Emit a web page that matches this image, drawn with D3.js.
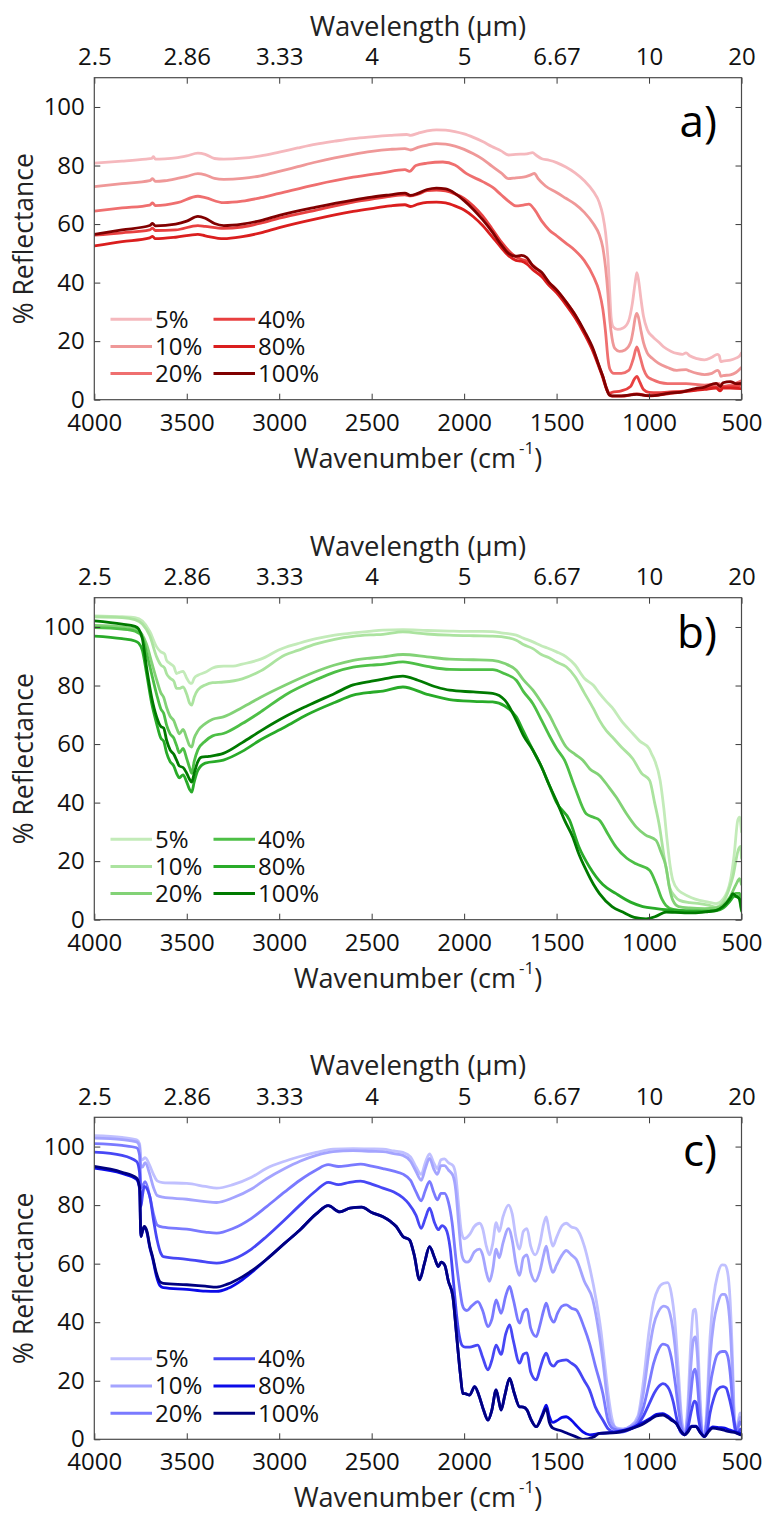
<!DOCTYPE html>
<html><head><meta charset="utf-8">
<script src="https://cdn.jsdelivr.net/npm/d3@7"></script>
<style>
body{margin:0;background:#fff;}
text{font-family:"Open Sans",sans-serif;}
</style></head>
<body><svg id="chart" width="766" height="1515"></svg>
<script>
// ---------- axis / category data ----------
const wavenumberTicks = [4000, 3500, 3000, 2500, 2000, 1500, 1000, 500];
const wavelengthLabels = ["2.5", "2.86", "3.33", "4", "5", "6.67", "10", "20"];
const reflectanceTicks = [0, 20, 40, 60, 80, 100];
const seriesNames = ["5%", "10%", "20%", "40%", "80%", "100%"];
const panelLabels = ["a)", "b)", "c)"];
const redColors = ["#f5b8bd", "#ef9898", "#ef6f6f", "#e84040", "#da1e1e", "#800000"];
const greenColors = ["#c3ebb9", "#abe39f", "#82d276", "#4dbf46", "#29ab29", "#007a00"];
const blueColors = ["#c0c0ff", "#a4a4ff", "#7a7aff", "#4747f5", "#0b0be8", "#000080"];

// ---------- panel a (red): [wavenumber, % reflectance] ----------
const red5 = [[4000,80.8],[3850,81.5],[3720,82.2],[3690,82.4],[3680,83.0],[3670,82.2],[3620,82.3],[3560,82.6],[3500,83.3],[3440,84.2],[3400,83.8],[3350,82.4],[3300,82.2],[3200,82.5],[3100,83.3],[3000,84.6],[2900,86],[2800,87.3],[2700,88.3],[2600,89.2],[2500,89.8],[2400,90.3],[2310,90.6],[2290,90.3],[2250,91],[2200,91.8],[2150,92.2],[2100,92.1],[2050,91.6],[2000,90.8],[1950,89.6],[1900,88.2],[1850,86.5],[1800,85],[1760,83.6],[1720,83.8],[1660,84],[1630,84.4],[1610,83.5],[1580,82.3],[1540,81.8],[1500,81],[1450,79.5],[1400,77.5],[1350,74.8],[1300,71],[1270,67.5],[1250,63],[1235,57],[1222,48],[1212,36],[1205,28],[1195,25],[1170,24],[1140,24.5],[1110,27],[1090,33],[1075,40],[1066,43.4],[1057,41],[1045,35],[1030,28.5],[1010,24],[980,21.5],[950,19.8],[920,18],[880,16.5],[850,15.8],[820,15.5],[800,16],[780,15],[740,14],[700,13.6],[660,14.5],[630,15.5],[620,15],[612,13],[600,13.2],[560,13.5],[530,14.2],[510,15],[500,16]];
const red10 = [[4000,72.8],[3850,73.8],[3700,74.8],[3685,75.5],[3670,74.6],[3620,74.8],[3550,75.6],[3500,76.3],[3440,77.2],[3400,76.8],[3350,75.6],[3300,75.3],[3200,75.6],[3100,76.5],[3000,78],[2900,79.6],[2800,81.2],[2700,82.6],[2600,83.8],[2500,84.8],[2400,85.5],[2320,85.8],[2290,85.3],[2250,86.2],[2200,87],[2150,87.5],[2100,87.3],[2050,86.6],[2000,85.5],[1950,84],[1900,82.2],[1850,79.8],[1800,77.5],[1760,75.5],[1720,75.8],[1680,76],[1640,76.8],[1620,77.3],[1600,75.5],[1560,73],[1500,70.8],[1450,68.8],[1400,66.8],[1350,64],[1300,60],[1270,56.5],[1250,52],[1235,45],[1222,36],[1212,27],[1200,21],[1185,17.5],[1160,16.5],[1130,17],[1100,19.5],[1085,24],[1075,28],[1066,29.5],[1057,28],[1045,24],[1030,19.5],[1010,16],[980,14],[950,12.5],[900,11],[850,10],[800,10.3],[780,9.8],[740,9],[700,8.6],[660,9],[630,10],[620,9.5],[612,8],[600,8.2],[560,8.5],[530,9.3],[500,11]];
const red20 = [[4000,64.4],[3850,65.5],[3700,66.5],[3685,67.2],[3670,66.3],[3550,67.3],[3440,69.5],[3400,69],[3300,67.3],[3200,67.8],[3100,69],[3000,70.5],[2800,73.5],[2600,76],[2442,77.5],[2320,78.6],[2295,78],[2261,80],[2200,80.8],[2115,81.2],[2050,80.2],[1989,77.3],[1900,74.5],[1845,72.5],[1800,70],[1754,67.5],[1720,66.2],[1680,66.5],[1650,66.8],[1620,65],[1580,61],[1540,58],[1500,56],[1450,53.5],[1400,51],[1350,47.5],[1300,42],[1270,37],[1250,31],[1235,23],[1222,14],[1212,10.5],[1190,9],[1150,9],[1110,10],[1085,14],[1066,18],[1050,15],[1030,10.5],[1010,8],[980,6.8],[900,5.5],[800,5.5],[700,5],[620,5.5],[612,4.5],[560,5],[500,6.5]];
const red40 = [[4000,56.2],[3850,57],[3700,58],[3685,58.6],[3670,57.8],[3560,58],[3440,59.5],[3400,59.2],[3300,58.5],[3200,59],[3100,60.3],[3000,62],[2800,64.8],[2600,67.5],[2500,68.5],[2400,69.5],[2320,70],[2290,69.6],[2250,70.2],[2200,71.4],[2150,71.6],[2100,71.3],[2050,70.3],[2000,68.8],[1950,66.2],[1900,62.8],[1850,58.5],[1800,54],[1760,51],[1720,48.8],[1690,48],[1650,47],[1620,45.5],[1580,43],[1540,40],[1500,37.5],[1450,33.5],[1400,29],[1350,23],[1300,16.5],[1270,11.5],[1250,8],[1230,4],[1215,2.2],[1200,2.5],[1150,3],[1100,4.5],[1080,7],[1066,8],[1050,6],[1030,3.5],[1000,2.5],[950,2.4],[900,2.6],[800,3],[700,3.8],[640,4.5],[615,3.5],[600,4.5],[560,4.5],[500,5]];
const red80 = [[4000,52.5],[3850,54],[3700,55.3],[3685,55.8],[3670,55],[3560,55.5],[3440,56.5],[3400,56],[3300,55],[3200,55.7],[3100,57],[3000,58.8],[2800,61.8],[2600,64.3],[2500,65.3],[2400,66.2],[2320,66.6],[2290,66],[2250,66.8],[2200,67.4],[2150,67.5],[2100,67.2],[2050,66.2],[2000,64.8],[1950,62.5],[1900,59.5],[1850,55.8],[1800,52],[1760,49.2],[1720,47.6],[1690,47.3],[1660,46.3],[1630,44.5],[1580,42],[1540,39],[1500,36.5],[1450,32.5],[1400,28],[1350,22.5],[1300,16],[1270,11],[1250,7.5],[1230,3.5],[1215,1.8],[1200,1.2],[1150,1.2],[1066,2],[1000,1.3],[900,2],[818,2.7],[750,3.2],[700,3.5],[637,4],[615,3],[600,4],[560,4],[500,3.8]];
const red100 = [[4000,56.5],[3850,58],[3700,59.5],[3685,60.2],[3670,59.4],[3560,60],[3500,61],[3440,62.6],[3400,62],[3350,60.2],[3300,59.5],[3200,60],[3100,61.2],[3000,63],[2800,65.8],[2600,68.2],[2500,69.2],[2400,70],[2320,70.6],[2290,69.8],[2250,70.5],[2200,71.8],[2150,72.3],[2100,72],[2050,70.5],[2000,68],[1950,65],[1900,61.5],[1850,57.5],[1800,53],[1760,50],[1720,49],[1690,49.3],[1660,48.5],[1630,45.8],[1580,43.5],[1540,40],[1500,37.5],[1450,33.5],[1400,29],[1350,23.5],[1300,17],[1270,11.5],[1250,8],[1230,3.8],[1215,1.6],[1200,1.3],[1150,1.3],[1066,1.8],[1000,1.4],[950,1.6],[900,2.2],[818,2.7],[750,3.8],[700,4.3],[637,5.6],[615,4.5],[600,5.8],[560,6.2],[530,5.5],[500,5.6]];

// ---------- panel b (green) ----------
const green5 = [[4000,103.8],[3850,103.5],[3780,103.2],[3740,102],[3700,98.5],[3663,93.2],[3640,91.5],[3620,90.8],[3609,88.6],[3590,87.5],[3570,86.5],[3555,84.1],[3540,84.5],[3520,84.8],[3500,82.5],[3485,81],[3473,80.7],[3460,82.5],[3440,83.5],[3400,84.5],[3360,86],[3330,86.5],[3300,86.6],[3250,86.6],[3200,87.3],[3100,89],[3000,92.2],[2969,93],[2900,94.3],[2800,96],[2700,97.2],[2600,98],[2500,98.6],[2439,98.9],[2331,99.1],[2200,98.8],[2079,98.6],[2000,98.5],[1900,98.5],[1846,98.4],[1800,98],[1718,97.2],[1680,96.2],[1628,94.9],[1580,93.5],[1550,92.8],[1500,91.5],[1448,89.8],[1400,87],[1350,82.5],[1300,80],[1268,77.3],[1230,74.5],[1200,72.5],[1150,68],[1088,63.6],[1050,61],[1000,58.5],[985,56.5],[970,54.5],[940,47.6],[920,38],[902,27],[885,18],[871,13.4],[840,10],[817,9],[770,7.5],[727,6.6],[680,6],[637,5.5],[600,7],[560,13.4],[540,22],[520,34],[510,35],[500,30]];
const green10 = [[4000,103.5],[3850,103.2],[3780,102.5],[3740,101],[3700,97],[3663,89.8],[3640,87],[3620,86],[3609,84],[3590,82.5],[3570,81.5],[3555,79],[3540,79],[3520,79.5],[3500,77],[3485,74],[3473,73.3],[3460,76],[3440,78.5],[3400,80.2],[3360,81],[3300,81.2],[3200,82.3],[3100,85],[2969,90.4],[2900,92],[2800,94.2],[2700,95.8],[2600,96.8],[2500,97.3],[2439,97.5],[2331,98.3],[2200,97.6],[2079,97.2],[1950,97],[1846,96.9],[1760,96.3],[1718,95.5],[1680,94],[1628,92.6],[1580,90.5],[1540,89.5],[1500,88],[1448,86.4],[1400,83],[1350,77.5],[1300,72],[1268,68.1],[1230,64.5],[1200,62.5],[1150,59],[1088,55],[1040,50],[997,47.6],[970,40],[943,31.7],[920,22],[900,15],[889,11.1],[860,8],[835,6.6],[780,5.8],[727,5.5],[680,5],[637,4.3],[600,6],[570,10],[547,14.6],[515,24.3],[505,25],[500,21]];
const green20 = [[4000,100.5],[3850,100],[3780,99.3],[3740,97.3],[3717,94],[3690,88],[3663,82],[3640,77.5],[3625,76],[3609,72.5],[3590,69.5],[3570,68],[3555,65.5],[3540,63.5],[3520,65],[3500,62],[3485,59.5],[3473,59],[3460,62],[3440,64.5],[3400,67],[3360,68.5],[3302,69.3],[3200,72.5],[3100,76],[2969,80.1],[2800,84.8],[2700,87],[2600,88.6],[2500,89.4],[2439,89.8],[2331,90.6],[2200,89.8],[2079,89],[1950,88.8],[1846,88.6],[1780,87.5],[1718,85.2],[1680,82],[1628,78.4],[1580,74],[1540,70],[1500,65],[1448,59],[1400,56.5],[1358,54.5],[1320,51.5],[1268,49.3],[1220,45.5],[1178,41.9],[1120,36],[1070,31.7],[1020,29],[962,27.1],[935,23],[908,18],[890,11],[871,6.6],[840,4.5],[780,4],[700,3.8],[640,4],[600,5],[560,8],[530,12],[510,14],[500,12]];
const green40 = [[4000,99.8],[3850,99.3],[3780,98.6],[3740,96.5],[3717,91],[3690,84],[3663,77],[3640,72],[3625,70.5],[3609,66.5],[3590,63.5],[3570,62],[3555,59.5],[3540,57],[3520,58.5],[3500,55],[3485,52],[3473,50],[3460,54],[3440,58],[3400,61],[3360,62.8],[3302,63.6],[3200,67],[3100,71],[2969,76.7],[2800,82],[2700,84.6],[2600,86.3],[2500,87],[2439,87.2],[2331,88.1],[2200,86.5],[2079,85.5],[1950,85.4],[1846,85.4],[1780,84],[1718,81.8],[1680,78],[1628,73.8],[1580,68],[1540,63],[1500,58.5],[1457,54.5],[1400,45],[1340,36.2],[1300,35],[1268,34],[1220,29],[1178,24.8],[1120,21],[1070,19.1],[997,16.9],[960,12],[930,7],[909,4.9],[870,3.5],[800,3],[700,3],[640,3.2],[600,4.5],[560,7],[530,9],[510,9],[500,6]];
const green80 = [[4000,96.9],[3850,96],[3780,95.2],[3760,94.5],[3740,92],[3717,84],[3690,74],[3663,67],[3640,62],[3625,61],[3609,57],[3590,54],[3570,52.5],[3555,50],[3540,48.5],[3520,49.5],[3500,47],[3485,44.5],[3473,43.6],[3460,47],[3440,51],[3400,53.5],[3302,54.5],[3200,57.5],[3100,61.5],[2969,65.8],[2850,70],[2700,74.2],[2600,76.7],[2500,77.7],[2439,78.1],[2331,79.5],[2200,77],[2079,75.2],[1950,74.6],[1846,74.4],[1780,73],[1718,69.3],[1680,64.5],[1628,57.9],[1580,52],[1540,46],[1500,40],[1430,34],[1380,25],[1322,18],[1250,12],[1178,8.9],[1100,6],[1034,4.5],[960,3.8],[908,3.4],[800,3],[700,2.8],[640,3],[600,4],[560,6.5],[540,8],[520,8],[500,3]];
const green100 = [[4000,102.1],[3850,101],[3780,100.2],[3760,99.3],[3740,96],[3717,86],[3690,76],[3663,69.3],[3640,66],[3625,65.5],[3609,61.3],[3590,58],[3570,56.5],[3555,54.5],[3540,52.5],[3520,52],[3500,50],[3485,48],[3473,47],[3460,50],[3440,54],[3420,55.5],[3380,55.8],[3302,56.8],[3200,60.5],[3100,64.5],[2969,69.3],[2850,73],[2700,77.3],[2600,80.2],[2500,81.5],[2439,82.2],[2331,83.2],[2250,81.8],[2150,79.5],[2079,78.4],[1950,77.8],[1846,77.3],[1780,75],[1718,68.1],[1680,63],[1628,57.9],[1580,52],[1540,46],[1500,40.5],[1457,34],[1412,28.2],[1380,22.5],[1340,16.9],[1300,12],[1268,8.9],[1200,4.5],[1142,2.6],[1080,0.8],[1016,0.3],[960,1.2],[908,2.6],[860,2.5],[760,2.3],[680,2.8],[637,3.2],[600,4.5],[560,7.5],[547,8.9],[530,8],[510,7],[500,3.5]];

// ---------- panel c (blue) ----------
const blue5 = [[4000,103.7],[3850,103.1],[3771,102.3],[3755,101],[3748,96],[3740,95.5],[3725,96.2],[3700,93.5],[3680,90.5],[3660,88.3],[3630,87.7],[3500,87.4],[3400,86.4],[3338,85.8],[3250,87],[3150,89.5],[3068,92.6],[2970,95],[2888,96.6],[2800,98],[2708,99.1],[2600,99.3],[2500,99.2],[2439,99.1],[2380,98.5],[2331,98],[2290,96.5],[2260,93],[2232,90.5],[2210,94.5],[2187,97.5],[2165,94.5],[2145,92.5],[2125,95.5],[2106,95.8],[2085,94.5],[2060,93.5],[2045,90],[2030,80],[2015,71],[2000,68.5],[1985,69],[1970,70],[1945,72.7],[1916,73.8],[1900,72],[1880,66],[1863,63],[1845,67],[1827,74],[1810,71],[1790,76],[1760,80],[1740,77],[1720,69],[1700,65],[1680,71],[1660,72],[1640,66],[1615,63],[1590,67],[1570,73.5],[1556,76],[1540,71],[1520,66],[1500,69],[1470,73],[1448,73.8],[1420,72.5],[1394,72],[1350,66],[1322,59],[1286,47.6],[1260,37],[1240,26],[1220,15],[1200,7],[1180,4],[1140,3.5],[1100,4.5],[1060,8],[1030,20],[1000,37],[975,47],[950,51.5],[920,53.3],[899,53.5],[880,50],[860,40],[840,22],[825,8],[808,2],[790,12],[775,32],[760,44],[750,44.5],[740,38],[725,16],[712,3],[700,1],[690,8],[670,35],[650,49],[630,56],[605,59.6],[590,59.5],[575,57],[562,48],[550,30],[540,10],[530,3],[518,6],[508,9],[500,8]];
const blue10 = [[4000,102.9],[3850,102.4],[3771,101.6],[3755,100],[3748,93],[3740,93],[3725,94.5],[3700,90.5],[3680,86],[3660,83.3],[3630,82.7],[3500,82],[3400,81.2],[3338,80.9],[3250,82.5],[3150,85.5],[3068,89],[2970,92.5],[2888,95],[2800,97],[2708,98.3],[2600,98.6],[2500,98.4],[2439,98.3],[2380,97.6],[2331,97],[2290,95],[2260,91.5],[2232,88.5],[2210,92.5],[2187,96],[2165,92.5],[2145,90.5],[2125,93.5],[2106,93.5],[2085,92],[2060,90],[2045,85],[2030,74],[2015,64],[2000,61],[1985,60.5],[1970,61],[1945,64],[1916,65],[1900,63],[1880,57],[1863,54],[1845,58],[1827,65],[1810,62],[1790,67],[1760,72],[1740,68],[1720,60],[1700,56],[1680,62],[1660,63],[1640,57],[1615,54],[1590,57.5],[1570,63],[1556,66],[1540,61],[1520,57],[1500,59.5],[1470,63],[1448,64.5],[1420,63],[1394,61.5],[1350,54],[1304,47.6],[1270,36],[1250,27],[1230,16],[1210,7],[1190,4.5],[1170,3.5],[1140,3.5],[1100,4.5],[1060,7],[1030,16],[1000,30],[975,39],[950,43.5],[920,45.5],[900,45],[880,41],[860,32],[840,17],[825,6],[808,2],[790,9],[775,24],[760,34],[750,35],[740,30],[725,12],[712,2],[700,1],[690,6],[670,28],[650,40],[630,46],[605,49.5],[590,49.5],[575,47],[562,39],[550,24],[540,8],[530,2.5],[518,5],[508,7.5],[500,7]];
const blue20 = [[4000,101],[3850,100.4],[3771,99.6],[3755,97],[3748,86],[3740,86.5],[3725,88],[3700,83],[3680,77],[3660,73.2],[3630,72.5],[3500,71.8],[3400,70.8],[3338,70.4],[3250,72],[3150,75.5],[3068,79.5],[2970,84.5],[2888,88.5],[2800,92],[2735,93.8],[2680,93.2],[2620,93.6],[2560,94],[2500,93.3],[2439,92.5],[2380,91.6],[2331,90.6],[2290,88.5],[2260,84.5],[2232,81.5],[2210,85],[2187,88.1],[2165,84.5],[2145,81.8],[2125,84],[2106,84],[2085,81],[2065,74],[2045,62],[2025,52],[2010,46],[2000,44.5],[1985,44],[1960,45.5],[1926,47],[1900,44],[1871,38.5],[1850,41],[1827,47.6],[1800,43],[1775,49],[1754,52.2],[1735,48],[1700,39.7],[1680,43.5],[1660,44.5],[1640,38],[1610,35.1],[1590,39],[1570,44],[1556,46.5],[1535,42],[1515,40],[1495,43],[1470,45.5],[1448,45.9],[1420,44.8],[1394,44.2],[1350,38],[1322,32.8],[1290,25],[1250,15.7],[1220,6],[1190,3.5],[1150,3],[1100,4],[1060,6],[1030,11],[1000,19],[975,26],[950,30.5],[925,32.5],[900,32],[880,28],[860,20],[840,10],[825,4],[808,1.8],[790,6],[775,15],[760,23],[750,24],[740,20],[725,8],[712,1.5],[700,1],[690,5],[670,18],[650,25],[630,29],[605,30],[590,30],[575,28.5],[562,23],[550,14],[540,5],[530,2.5],[518,4],[508,6],[500,5]];
const blue40 = [[4000,98.1],[3850,97],[3771,94.9],[3755,91],[3748,79.5],[3740,83],[3730,86.4],[3700,83],[3680,75],[3660,68],[3640,63.5],[3627,62.4],[3500,61.5],[3400,60.6],[3338,60.2],[3250,61.5],[3150,65],[3068,69.3],[2970,75],[2888,80],[2800,85],[2735,87.8],[2680,87],[2620,87.8],[2560,88.2],[2500,87.2],[2439,85.8],[2380,84.5],[2331,82.5],[2300,80.5],[2260,76.5],[2232,72.1],[2210,75.5],[2187,79],[2160,74],[2140,71.6],[2120,73],[2100,72],[2075,65],[2055,52],[2040,42],[2025,35],[2010,32],[1995,31.5],[1970,31.5],[1926,32.2],[1900,28],[1871,23.7],[1850,27],[1827,32.2],[1800,29],[1775,36],[1754,39.1],[1735,34],[1700,26],[1680,29],[1660,29.5],[1640,23],[1610,20.3],[1590,24],[1570,28],[1556,29.4],[1535,26],[1515,25],[1495,26.5],[1470,27],[1448,27.1],[1420,26],[1394,24.8],[1350,20],[1322,16.9],[1290,11],[1250,6.6],[1220,3.5],[1190,2.5],[1150,2.5],[1100,3.5],[1060,5],[1030,8],[1000,12],[970,16],[940,18.5],[925,19],[900,18],[870,13],[850,7],[830,2.5],[808,1.5],[790,4],[770,10],[755,13],[745,12.5],[735,8],[720,3],[700,0.9],[685,3],[670,9],[650,14],[630,17],[600,18],[583,17.5],[570,15],[555,11],[540,6],[525,2],[515,2.5],[505,3.5],[500,3]];
const blue80 = [[4000,92.6],[3850,90.8],[3771,88.8],[3755,85.5],[3748,69.3],[3740,71],[3730,72.5],[3715,70.5],[3700,65.5],[3685,62],[3665,56],[3645,52.5],[3627,51.8],[3500,51.2],[3400,50.6],[3338,50.5],[3280,51.5],[3200,54.5],[3150,57],[3068,61.5],[2970,67],[2888,71.5],[2800,77],[2735,79.8],[2672,77.7],[2618,79],[2554,79.3],[2500,77.5],[2439,76],[2400,74.5],[2367,72.7],[2331,69.3],[2295,68.1],[2270,63],[2241,54.5],[2215,60],[2187,65.8],[2160,62],[2140,59],[2124,60.5],[2105,59.5],[2085,54],[2061,48.8],[2040,35],[2020,22],[2007,15.7],[1990,15.5],[1970,15.1],[1943,18],[1920,15],[1895,10],[1871,6.6],[1850,10],[1827,16.9],[1812,13],[1800,10],[1780,15],[1754,20.8],[1730,16],[1700,11.1],[1680,11],[1660,10],[1640,7],[1610,4.3],[1580,8],[1565,10.5],[1556,11.7],[1540,8],[1520,5.8],[1500,6.3],[1470,7.5],[1448,7.7],[1420,6.5],[1390,4.5],[1358,2.5],[1320,1.5],[1268,2],[1178,2.5],[1088,4],[1040,5.5],[997,7],[960,8.5],[925,8.8],[900,8],[880,7],[854,5.5],[830,3],[808,1.5],[790,2.8],[770,4.5],[746,4.5],[725,2.5],[700,1],[680,2.8],[655,4.2],[620,4],[590,3.8],[565,3.2],[530,2.5],[502,2],[500,2]];
const blue100 = [[4000,93.2],[3850,91.2],[3771,89.2],[3755,86],[3748,69.3],[3740,71],[3730,72.7],[3715,71],[3700,66],[3685,62.4],[3665,57],[3645,53.8],[3627,53.3],[3500,52.8],[3400,52.3],[3338,52],[3280,53],[3200,55.5],[3150,57.5],[3068,61.5],[2970,67],[2888,71.5],[2800,77],[2735,79.8],[2672,77.7],[2618,79],[2554,79.3],[2500,77.5],[2439,76],[2400,74.5],[2367,72.7],[2331,69.3],[2295,68.1],[2270,63],[2241,54.5],[2215,60],[2187,65.8],[2160,62],[2140,59],[2124,60.5],[2105,59.5],[2085,54],[2061,48.8],[2040,35],[2020,22],[2007,15.7],[1990,15.5],[1970,15.1],[1943,18],[1920,15],[1895,10],[1871,6.6],[1850,10],[1827,16.9],[1812,13],[1800,10],[1780,15],[1754,20.8],[1730,16],[1700,11.1],[1680,11],[1660,10],[1640,7],[1610,4.3],[1580,7.5],[1556,10.5],[1540,6],[1520,3.8],[1480,3],[1440,2],[1400,1],[1358,0],[1300,0.8],[1268,2],[1178,2.3],[1088,3.8],[1040,5],[997,6.6],[960,8],[925,8.3],[900,7.5],[880,6.6],[854,5.5],[830,3],[808,1.5],[790,2.5],[770,4.3],[746,4.3],[725,2.5],[700,0.9],[680,2.5],[655,3.8],[620,3.5],[590,3],[565,2.6],[530,2.2],[502,1.5],[500,1.5]];

// ---------- layout ----------
const W = 766, H = 1515;
const plotLeft = 94.3, plotRight = 741.5, plotHeight = 322;
const panelTops = [77.7, 597.7, 1117.3];
const panelLabelBaselines = [59, 50.5, 49];

const panels = [
  {series: [red5, red10, red20, red40, red80, red100], colors: redColors},
  {series: [green5, green10, green20, green40, green80, green100], colors: greenColors},
  {series: [blue5, blue10, blue20, blue40, blue80, blue100], colors: blueColors}
];

const svg = d3.select("#chart");
svg.append("rect").attr("width", W).attr("height", H).attr("fill", "#fff");

const x = d3.scaleLinear().domain([4000, 500]).range([plotLeft, plotRight]);

panels.forEach((p, i) => {
  const top = panelTops[i], bottom = top + plotHeight;
  const y = d3.scaleLinear().domain([0, 110]).range([bottom, top]);
  const g = svg.append("g");

  const clipId = "clip" + i;
  g.append("clipPath").attr("id", clipId).append("rect")
    .attr("x", plotLeft).attr("y", top).attr("width", plotRight - plotLeft).attr("height", plotHeight);

  const line = d3.line().x(d => x(d[0])).y(d => y(d[1])).curve(d3.curveMonotoneX);
  const lines = g.append("g").attr("clip-path", `url(#${clipId})`);
  p.series.forEach((s, k) => {
    lines.append("path").datum(s).attr("d", line)
      .attr("fill", "none").attr("stroke", p.colors[k]).attr("stroke-width", 2.8)
      .attr("stroke-linejoin", "round").attr("stroke-linecap", "round");
  });

  // axes
  const styleAxis = (sel) => {
    sel.select(".domain").remove();
    sel.selectAll(".tick line").attr("stroke", "#3a3a3a").attr("stroke-width", 1);
    sel.selectAll(".tick text").attr("fill", "#111").style("font-size", "24px").style("font-family", '"Open Sans", sans-serif');
  };
  g.append("g").attr("transform", `translate(0,${bottom})`)
    .call(d3.axisBottom(x).tickValues(wavenumberTicks).tickSize(-6).tickPadding(13.8).tickFormat(d3.format("d")))
    .call(styleAxis);
  g.append("g").attr("transform", `translate(0,${top})`)
    .call(d3.axisTop(x).tickValues(wavenumberTicks).tickSize(-6).tickPadding(12.7)
      .tickFormat((d, j) => wavelengthLabels[j]))
    .call(styleAxis);
  g.append("g").attr("transform", `translate(${plotLeft},0)`)
    .call(d3.axisLeft(y).tickValues(reflectanceTicks).tickSize(-6).tickPadding(9.5))
    .call(styleAxis);
  g.append("g").attr("transform", `translate(${plotRight},0)`)
    .call(d3.axisRight(y).tickValues(reflectanceTicks).tickSize(-6).tickFormat(""))
    .call(styleAxis);

  // box
  g.append("rect").attr("x", plotLeft).attr("y", top)
    .attr("width", plotRight - plotLeft).attr("height", plotHeight)
    .attr("fill", "none").attr("stroke", "#4a4a4a").attr("stroke-width", 1.2);

  // titles
  const cx = (plotLeft + plotRight) / 2;
  g.append("text").attr("x", cx).attr("y", top - 42).attr("text-anchor", "middle")
    .attr("fill", "#222").style("font-size", "27.5px").text("Wavelength (µm)");
  const bt = g.append("text").attr("x", cx).attr("y", bottom + 68).attr("text-anchor", "middle")
    .attr("fill", "#222").style("font-size", "27px");
  bt.append("tspan").text("Wavenumber (cm");
  bt.append("tspan").attr("dx", 3).attr("dy", -14).style("font-size", "17px").text("-1");
  bt.append("tspan").attr("dy", 14).text(")");
  g.append("text").attr("transform", `translate(33,${top + plotHeight / 2}) rotate(-90)`)
    .attr("text-anchor", "middle").attr("fill", "#222").style("font-size", "26.5px").text("% Reflectance");

  // panel label
  g.append("text").attr("x", 717).attr("y", top + panelLabelBaselines[i]).attr("text-anchor", "end")
    .attr("fill", "#000").style("font-size", "44px").text(panelLabels[i]);

  // legend
  const legend = g.append("g");
  seriesNames.forEach((name, k) => {
    const col = Math.floor(k / 3), row = k % 3;
    const lx = 110.5 + col * 103, ly = top + 241.5 + row * 27.2;
    legend.append("line").attr("x1", lx).attr("x2", lx + 41.5).attr("y1", ly).attr("y2", ly)
      .attr("stroke", p.colors[k]).attr("stroke-width", 3);
    legend.append("text").attr("x", lx + 44.5).attr("y", ly).attr("dy", "0.35em")
      .attr("fill", "#111").style("font-size", "24px").text(name);
  });
});
</script>
</body></html>
